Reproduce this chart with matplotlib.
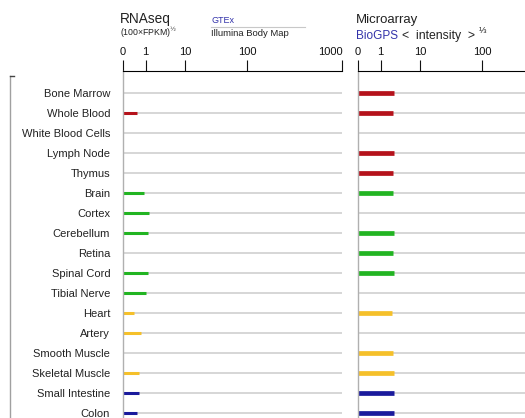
import matplotlib
matplotlib.use('Agg')
import matplotlib.pyplot as plt
import numpy as np
from matplotlib.lines import Line2D

plt.rcParams['font.family'] = ['Liberation Sans', 'DejaVu Sans']

# tejidos y valores
tissues = ['Bone Marrow', 'Whole Blood', 'White Blood Cells', 'Lymph Node', 'Thymus',
           'Brain', 'Cortex', 'Cerebellum', 'Retina', 'Spinal Cord', 'Tibial Nerve',
           'Heart', 'Artery', 'Smooth Muscle', 'Skeletal Muscle', 'Small Intestine', 'Colon']
groups = ['blood'] * 5 + ['neuro'] * 6 + ['muscle'] * 4 + ['gut'] * 2
rnaseq = [0, 0.44, 0, 0, 0, 0.88, 1.31, 1.24, 0, 1.24, 1.04, 0.33, 0.68, 0, 0.53, 0.54, 0.44]
microarray = [2.5, 2.4, 0, 2.5, 2.4, 2.4, 0, 2.5, 2.4, 2.5, 0, 2.3, 0, 2.4, 2.5, 2.5, 2.5]
ticks_rna = [0, 1, 10, 100, 1000]
labels_rna = ['0', '1', '10', '100', '1000']
ticks_micro = [0, 1, 10, 100]
labels_micro = ['0', '1', '10', '100']

group_colors = {'blood': '#b5121b', 'neuro': '#22b422', 'muscle': '#f5c02a', 'gut': '#1a1a9c'}

W, H = 525, 418
P, C = 0.18, 0.2
C0 = C ** P


def fwd(v):
    return np.power(np.maximum(v, 0) + C, P) - C0


def inv(u):
    return np.power(np.maximum(u + C0, 1e-9), 1 / P) - C


fig = plt.figure(figsize=(W / 100, H / 100), dpi=100)


def make_panel(x0, values, lw, ticks, tlabels, show_labels, last_right):
    ax = fig.add_axes([x0 / W, 0, 219.6 / W, (H - 71) / H])
    ax.set_xscale('function', functions=(fwd, inv))
    ax.set_xlim(0, 1000)
    ax.set_ylim(16.25, -1.1)
    n = len(tissues)
    ax.hlines(range(n), 0, 1000, color='#cccccc', lw=1.1, zorder=1)
    for i, v in enumerate(values):
        if v > 0:
            ax.hlines(i, 0, v, color=group_colors[groups[i]], lw=lw, zorder=2,
                      capstyle='butt')
    ax.xaxis.tick_top()
    ax.set_xticks(ticks)
    labs = ax.set_xticklabels(tlabels, fontsize=8)
    if last_right:
        labs[-1].set_horizontalalignment('right')
    ax.tick_params(axis='x', direction='out', length=8, width=0.8, pad=2, colors='#111111')
    for s in ['bottom', 'right']:
        ax.spines[s].set_visible(False)
    ax.spines['top'].set_linewidth(0.8)
    ax.spines['left'].set_color('#b0b0b0')
    ax.spines['left'].set_linewidth(1.0)
    if show_labels:
        ax.set_yticks(range(n))
        ax.set_yticklabels(tissues, fontsize=8)
        ax.tick_params(axis='y', length=0, pad=9, colors='#222222')
    else:
        ax.set_yticks([])
    return ax


make_panel(122.7, rnaseq, 2.2, ticks_rna, labels_rna, True, True)
make_panel(357.7, microarray, 3.4, ticks_micro, labels_micro, False, False)


def px(x, y):
    return x / W, 1 - y / H


# titulos
fig.text(*px(120, 23), 'RNAseq', fontsize=9.8, color='#222222')
fig.text(*px(120, 36), '(100\u00d7FPKM)$^{\u00bd}$', fontsize=6.3, color='#222222')
fig.text(*px(211, 23), 'GTEx', fontsize=6.5, color='#3333aa')
fig.add_artist(Line2D([211 / W, 305 / W], [1 - 26.5 / H, 1 - 26.5 / H], color='#c8c8c8', lw=0.8))
fig.text(*px(211, 36), 'Illumina Body Map', fontsize=6.8, color='#222222')
fig.text(*px(356, 23), 'Microarray', fontsize=9.5, color='#222222')
fig.text(*px(356, 39), 'BioGPS', fontsize=8.5, color='#3333aa')
fig.text(*px(402, 39), '<  intensity  >', fontsize=8.8, color='#222222')
fig.text(*px(479, 33), '\u2153', fontsize=6.5, color='#222222')

# corchete a la izquierda
fig.add_artist(Line2D([10 / W, 10 / W], [1 - 76 / H, 0], color='#a0a0a0', lw=1.0))
fig.add_artist(Line2D([10 / W, 14 / W], [1 - 76 / H, 1 - 76 / H], color='#444444', lw=1.0))

fig.savefig('out.png', dpi=100)
